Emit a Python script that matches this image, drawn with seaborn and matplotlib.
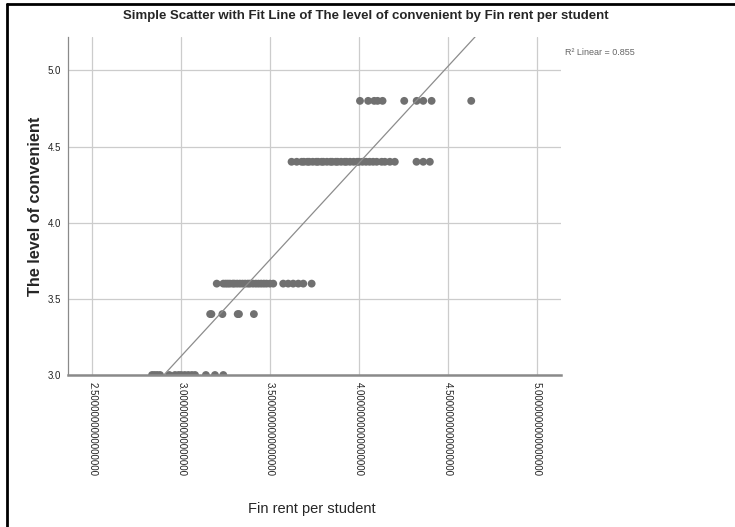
import numpy as np
import pandas as pd
import matplotlib
matplotlib.use("Agg")
import matplotlib.pyplot as plt
import seaborn as sns
from matplotlib.lines import Line2D

# rent per student for each convenience level
rent_48 = [4.006, 4.052, 4.086, 4.105, 4.133, 4.255, 4.325, 4.362, 4.409, 4.632]
rent_44 = [3.621, 3.650, 3.678, 3.69, 3.71, 3.72, 3.74, 3.76, 3.77, 3.79, 3.80,
           3.82, 3.84, 3.85, 3.87, 3.88, 3.90, 3.92, 3.93, 3.95, 3.97, 3.99,
           4.00, 4.02, 4.04, 4.06, 4.08, 4.10, 4.128, 4.146, 4.174, 4.202,
           4.324, 4.362, 4.399]
rent_36 = [3.200, 3.237, 3.25, 3.262, 3.274, 3.29, 3.30, 3.315, 3.33, 3.345,
           3.36, 3.375, 3.387, 3.404, 3.42, 3.435, 3.45, 3.465, 3.48, 3.499,
           3.518, 3.574, 3.602, 3.630, 3.659, 3.687, 3.734]
rent_34 = [3.163, 3.17, 3.232, 3.318, 3.325, 3.409]
rent_30 = [2.836, 2.85, 2.865, 2.881, 2.933, 2.965, 2.985, 3.0, 3.02, 3.04,
           3.06, 3.078, 3.139, 3.190, 3.237]
levels = [4.8, 4.4, 3.6, 3.4, 3.0]
r2_linear = 0.855

xticks = [2.5, 3.0, 3.5, 4.0, 4.5, 5.0]
yticks = [3.0, 3.5, 4.0, 4.5, 5.0]

rows = []
for lvl, xs in zip(levels, [rent_48, rent_44, rent_36, rent_34, rent_30]):
    for v in xs:
        rows.append((v, lvl))
df = pd.DataFrame(rows, columns=["Fin rent per student", "The level of convenient"])

sns.set_style("white")
plt.rcParams['font.family'] = ['Liberation Sans', 'DejaVu Sans']

fig = plt.figure(figsize=(7.35, 5.27), dpi=100)
ax = fig.add_axes([0.0925, 0.2884, 0.6705, 0.6416])
ax.set_xlim(2.363, 5.136)
ax.set_ylim(3.0, 5.22)

sns.regplot(data=df, x="Fin rent per student", y="The level of convenient",
            ax=ax, ci=None, truncate=False,
            scatter_kws={"s": 32, "color": "#707070", "edgecolor": "none", "alpha": 1},
            line_kws={"color": "#8c8c8c", "linewidth": 0.9})

ax.set_xticks(xticks)
ax.set_yticks(yticks)
ax.set_xticklabels(["%.16f" % t for t in xticks], rotation=-90, fontsize=7, color="#222222")
ax.set_yticklabels(["%.1f" % t for t in yticks], fontsize=7, color="#222222")
ax.tick_params(length=0, pad=5)
ax.grid(True, color="#cccccc", linewidth=0.9)
ax.set_axisbelow(True)
for s in ["top", "right"]:
    ax.spines[s].set_visible(False)
ax.spines["left"].set_color("#8a8a8a")
ax.spines["left"].set_linewidth(0.9)
ax.spines["bottom"].set_color("#8a8a8a")
ax.spines["bottom"].set_linewidth(1.8)

ax.set_xlabel("Fin rent per student", fontsize=10.5)
ax.set_ylabel("The level of convenient", fontsize=11.7, fontweight="bold", labelpad=3.5)
ax.xaxis.set_label_coords(0.495, -0.375)

fig.text(0.498, 0.969, "Simple Scatter with Fit Line of The level of convenient by Fin rent per student",
         ha="center", va="center", fontsize=9.5, fontweight="bold")
fig.text(0.769, 0.901, "R\u00b2 Linear = %.3f" % r2_linear, ha="left", va="center",
         fontsize=6.5, color="#666666")

# outer frame (left and top edges)
fig.add_artist(Line2D([0.0095, 0.0095], [0.0, 0.992], color="black", linewidth=2,
                      transform=fig.transFigure))
fig.add_artist(Line2D([0.0095, 1.0], [0.992, 0.992], color="black", linewidth=2,
                      transform=fig.transFigure))

fig.savefig("out.png", dpi=100)
